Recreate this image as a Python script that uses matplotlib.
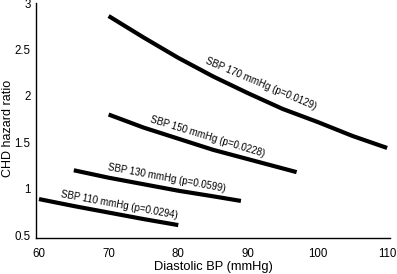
import matplotlib
matplotlib.use("Agg")
import matplotlib.pyplot as plt

plt.rcParams['font.family'] = ['Liberation Sans', 'DejaVu Sans']

# diastolic BP points and hazard ratios
dbp_170 = [70, 75, 80, 85, 90, 95, 100, 105, 110]
hr_170 = [2.86, 2.63, 2.41, 2.21, 2.03, 1.86, 1.72, 1.57, 1.44]
dbp_150 = [70, 75, 80, 85, 90, 95, 97]
hr_150 = [1.80, 1.66, 1.54, 1.42, 1.32, 1.22, 1.18]
dbp_130 = [65, 70, 75, 80, 85, 89]
hr_130 = [1.20, 1.12, 1.05, 0.98, 0.92, 0.87]
dbp_110 = [60, 65, 70, 75, 80]
hr_110 = [0.89, 0.815, 0.745, 0.675, 0.61]

labels = ["SBP 170 mmHg (p=0.0129)", "SBP 150 mmHg (p=0.0228)",
          "SBP 130 mmHg (p=0.0599)", "SBP 110 mmHg (p=0.0294)"]
label_pos = [(91.8, 2.13), (84.2, 1.56), (78.3, 1.12), (71.5, 0.825)]
label_rot = [-23, -17, -10.5, -10.5]

fig = plt.figure(figsize=(3.97, 2.74), dpi=100)
ax = fig.add_axes([0.0907, 0.131, 0.892, 0.858])

for x, y in [(dbp_170, hr_170), (dbp_150, hr_150), (dbp_130, hr_130), (dbp_110, hr_110)]:
    ax.plot(x, y, color='black', lw=3, solid_capstyle='butt', solid_joinstyle='round')

for txt, (px, py), r in zip(labels, label_pos, label_rot):
    ax.text(px, py, txt, rotation=r, rotation_mode='anchor', ha='center', va='center', fontsize=7)

ax.set_xlim(59.57, 110.43)
ax.set_ylim(0.47, 3.0)
ax.set_xticks([60, 70, 80, 90, 100, 110])
ax.set_yticks([0.5, 1, 1.5, 2, 2.5, 3])
ax.set_yticklabels(['0.5', '1', '1.5', '2', '2.5', '3'])
ax.tick_params(length=0, labelsize=8.3)
ax.tick_params(axis='x', pad=7)
ax.tick_params(axis='y', pad=4)
ax.spines['top'].set_visible(False)
ax.spines['right'].set_visible(False)
ax.spines['left'].set_linewidth(1)
ax.spines['bottom'].set_linewidth(1)
ax.set_xlabel('Diastolic BP (mmHg)', fontsize=9.3)
ax.set_ylabel('CHD hazard ratio', fontsize=9)
ax.xaxis.set_label_coords(0.5, -0.097)
ax.yaxis.set_label_coords(-0.062, 0.465)

fig.savefig("out.png", dpi=100)
